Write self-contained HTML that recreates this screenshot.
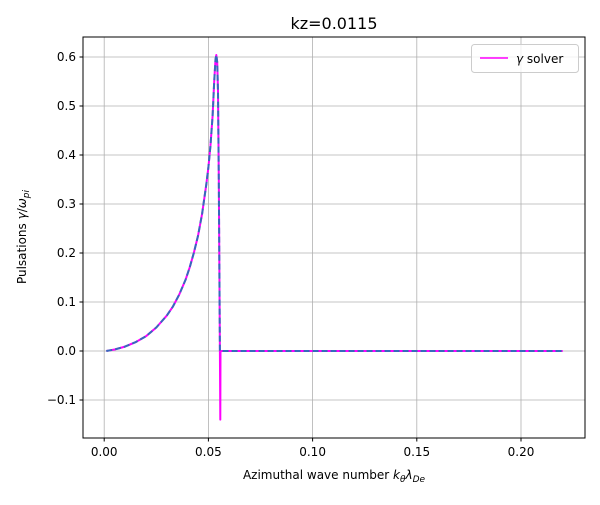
<!DOCTYPE html>
<html><head><meta charset="utf-8"><style>
body{margin:0;background:#fff;font-family:"Liberation Sans","DejaVu Sans",sans-serif}
</style></head><body>
<svg width="600" height="500" xmlns="http://www.w3.org/2000/svg" font-family="DejaVu Sans, Liberation Sans, sans-serif">
<g id="grid"></g>
<g id="series"></g>
<rect x="83" y="37" width="502" height="401" fill="none" stroke="#000" stroke-width="1"/>
<g id="ticks"></g>
<text x="334" y="29" text-anchor="middle" font-size="16">kz=0.0115</text>
<text x="334" y="479" text-anchor="middle" font-size="12">Azimuthal wave number <tspan font-style="italic">k</tspan><tspan font-size="9" dy="3" font-style="italic">θ</tspan><tspan dy="-3" font-style="italic">λ</tspan><tspan font-size="9" dy="3" font-style="italic">De</tspan></text>
<text transform="translate(26,237) rotate(-90)" text-anchor="middle" font-size="12">Pulsations  <tspan font-style="italic">γ</tspan>/<tspan font-style="italic">ω</tspan><tspan font-size="9" dy="3" font-style="italic">pi</tspan></text>
<g>
<rect x="471.5" y="44.5" width="107" height="28" rx="3" fill="#fff" fill-opacity="0.8" stroke="#ccc"/>
<line x1="480" y1="58" x2="508" y2="58" stroke="#ff00ff" stroke-width="1.5"/>
<text x="516" y="63" font-size="12"><tspan font-style="italic">γ</tspan> solver</text>
</g>
</svg>
<script>
const xTicks=[0,0.05,0.1,0.15,0.2];
const xTickLabels=["0.00","0.05","0.10","0.15","0.20"];
const yTicks=[-0.1,0,0.1,0.2,0.3,0.4,0.5,0.6];
const yTickLabels=["−0.1","0.0","0.1","0.2","0.3","0.4","0.5","0.6"];
const kVals=[0.001,0.005,0.01,0.015,0.02,0.025,0.03,0.033,0.036,0.039,0.041,0.043,0.045,0.047,0.048,0.049,0.05,0.051,0.052,0.0528,0.0534,0.0538,0.0542,0.0546,0.055,0.0555,0.0557,0.0558,0.1,0.15,0.22];
const solverVals=[0,0.003,0.009,0.018,0.03,0.048,0.072,0.091,0.115,0.145,0.17,0.2,0.235,0.28,0.31,0.34,0.375,0.42,0.48,0.55,0.595,0.604,0.59,0.53,0.35,0.0,-0.14,0,0,0,0];
const refVals=[0,0.003,0.009,0.018,0.03,0.048,0.072,0.091,0.115,0.145,0.17,0.2,0.235,0.28,0.31,0.34,0.375,0.42,0.48,0.55,0.595,0.604,0.59,0.53,0.35,0.0,0,0,0,0,0];
const X=v=>104.2+v*2084, Y=v=>351-v*490;
const NS="http://www.w3.org/2000/svg";
function mk(t,a,p){const e=document.createElementNS(NS,t);for(const k in a)e.setAttribute(k,a[k]);p.appendChild(e);return e;}
const grid=document.getElementById('grid'),ticks=document.getElementById('ticks'),series=document.getElementById('series');
xTicks.forEach((v,i)=>{
 const g=mk('line',{x1:X(v),x2:X(v),y1:37,y2:438,stroke:'#b0b0b0','stroke-width':0.8},grid);
 
 
 mk('line',{x1:X(v),x2:X(v),y1:438,y2:441.5,stroke:'#000'},ticks);
 const t=mk('text',{x:X(v),y:456,'text-anchor':'middle','font-size':12},ticks);t.textContent=xTickLabels[i];
 
 
});
yTicks.forEach((v,i)=>{
 const g=mk('line',{x1:83,x2:585,y1:Y(v),y2:Y(v),stroke:'#b0b0b0','stroke-width':0.8},grid);
 
 
 mk('line',{x1:79.5,x2:83,y1:Y(v),y2:Y(v),stroke:'#000'},ticks);
 const t=mk('text',{x:76,y:Y(v)+4,'text-anchor':'end','font-size':12},ticks);t.textContent=yTickLabels[i];
 
 
});
const pts=a=>kVals.map((k,i)=>X(k).toFixed(1)+','+Y(a[i]).toFixed(1)).join(' ');
const l1=mk('polyline',{points:pts(solverVals),fill:'none',stroke:'#ff00ff','stroke-width':2,'stroke-linejoin':'round'},series);


const l2=mk('polyline',{points:pts(refVals),fill:'none',stroke:'#1f77b4','stroke-width':2,'stroke-dasharray':'6,3','stroke-linejoin':'round',opacity:0.9},series);


</script>
</body></html>
